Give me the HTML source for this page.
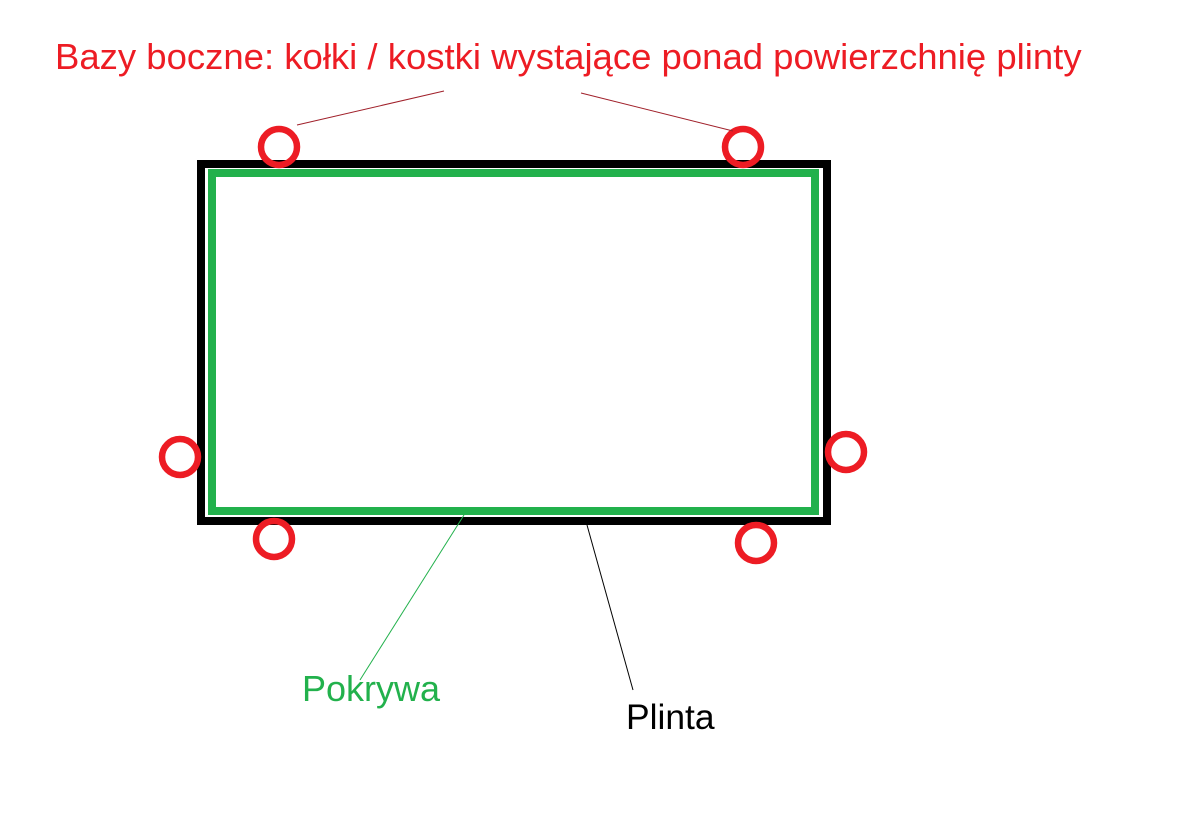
<!DOCTYPE html>
<html><head><style>
body{margin:0;background:#fff;width:1179px;height:815px;overflow:hidden;position:relative;font-family:"Liberation Sans",sans-serif}
.t{position:absolute;white-space:nowrap;line-height:1}
</style></head><body>
<svg width="1179" height="815" style="position:absolute;left:0;top:0">
<rect x="201" y="164" width="626" height="357" fill="none" stroke="#000" stroke-width="8"/>
<rect x="212" y="173" width="603" height="338" fill="none" stroke="#22b14c" stroke-width="8"/>
<g fill="none" stroke="#ed1c24" stroke-width="6.5">
<circle cx="279" cy="147" r="18"/>
<circle cx="743" cy="147" r="18"/>
<circle cx="180" cy="457" r="18"/>
<circle cx="846" cy="452" r="18"/>
<circle cx="274" cy="539" r="18"/>
<circle cx="756" cy="543" r="18"/>
</g>
<line x1="297" y1="125" x2="444" y2="91" stroke="#a0202a" stroke-width="1"/>
<line x1="581" y1="93" x2="733" y2="131" stroke="#a0202a" stroke-width="1"/>
<line x1="464" y1="515" x2="360" y2="680" stroke="#22b14c" stroke-width="1"/>
<line x1="587" y1="525" x2="633" y2="690" stroke="#000" stroke-width="1"/>
</svg>
<div class="t" style="left:55px;top:39px;font-size:36.5px;color:#ed1c24">Bazy boczne: kołki / kostki wystające ponad powierzchnię plinty</div>
<div class="t" style="left:302px;top:671px;font-size:36px;color:#22b14c">Pokrywa</div>
<div class="t" style="left:626px;top:700px;font-size:35.4px;color:#000">Plinta</div>
</body></html>
